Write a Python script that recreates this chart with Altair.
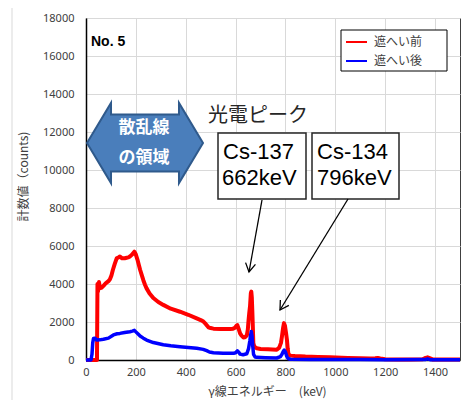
import altair as alt
import pandas as pd

# ---- data ----
red_kev = [0, 20, 44, 46, 48, 52, 56, 62, 70, 80, 90, 96, 102, 108, 115, 123, 130, 136, 145, 155,
           163, 170, 176, 185, 194, 200, 206, 212, 217, 224, 230, 237, 243, 255, 270, 290, 310, 340,
           377, 410, 444, 460, 471, 480, 491, 500, 511, 540, 578, 590, 598, 603, 607, 612, 618, 624,
           631, 638, 645, 649, 652, 655, 658, 661, 663, 665, 667, 669, 671, 675, 685, 700, 730, 765,
           775, 782, 786, 790, 794, 798, 802, 806, 809, 812, 820, 838, 880, 930, 979, 1050, 1100,
           1140, 1160, 1170, 1180, 1200, 1250, 1300, 1350, 1362, 1370, 1378, 1390, 1450, 1500]
red_counts = [0, 0, 0, 4000, 3600, 4100, 3780, 3800, 3900, 4050, 4150, 4250, 4450, 4750, 5050, 5350,
              5400, 5450, 5350, 5350, 5380, 5400, 5450, 5550, 5700, 5550, 5300, 5000, 4750, 4450, 4200,
              3950, 3770, 3500, 3260, 3050, 2900, 2700, 2540, 2380, 2190, 2100, 2020, 1900, 1720, 1680,
              1650, 1630, 1630, 1650, 1700, 1800, 1840, 1650, 1400, 1280, 1190, 1200, 1300, 1600, 2100,
              2500, 2850, 3500, 3600, 3300, 2600, 1800, 900, 700, 620, 580, 560, 540, 650, 900, 1250,
              1650, 1940, 1800, 1450, 1050, 600, 300, 230, 210, 180, 160, 140, 110, 90, 85, 95, 110, 80,
              40, 30, 30, 40, 110, 140, 100, 30, 25, 20]

blue_kev = [0, 20, 24, 27, 30, 36, 43, 55, 70, 90, 110, 125, 136, 155, 176, 186, 194, 200, 210, 217,
            230, 243, 270, 310, 340, 377, 410, 444, 470, 484, 495, 511, 550, 592, 600, 607, 612, 618,
            630, 645, 652, 657, 660, 663, 666, 669, 672, 678, 685, 720, 765, 780, 786, 791, 795, 800,
            805, 810, 820, 900, 1000, 1100, 1200, 1360, 1370, 1380, 1500]
blue_counts = [0, 0, 300, 900, 1130, 1150, 1050, 1060, 1090, 1150, 1320, 1380, 1400, 1450, 1490, 1520,
               1560, 1480, 1350, 1260, 1150, 1050, 920, 800, 750, 700, 660, 615, 560, 490, 420, 385,
               360, 350, 380, 480, 420, 310, 280, 330, 600, 1000, 1300, 1500, 1250, 700, 300, 160, 140,
               120, 105, 180, 300, 450, 520, 420, 200, 80, 40, 30, 25, 20, 15, 20, 60, 15, 10]

series_names = ["遮へい前", "遮へい後"]
series_colors = ["#ff0000", "#0000ff"]

x_ticks = [0, 200, 400, 600, 800, 1000, 1200, 1400]
y_ticks = [0, 2000, 4000, 6000, 8000, 10000, 12000, 14000, 16000, 18000]

df_red = pd.DataFrame({"keV": red_kev, "counts": red_counts, "series": series_names[0]})
df_blue = pd.DataFrame({"keV": blue_kev, "counts": blue_counts, "series": series_names[1]})

JP = "Noto Sans CJK JP"
NUM = "Noto Sans"
TXT = "#404040"

x_enc = alt.X("keV:Q", scale=alt.Scale(domain=[0, 1500], nice=False),
              axis=alt.Axis(values=x_ticks, title="γ線エネルギー　(keV)", labelFlush=False, format="d",
                            labelPadding=6, titleX=181, titleY=31, titleBaseline="middle", titleColor=TXT))
y_enc = alt.Y("counts:Q", scale=alt.Scale(domain=[0, 18000], nice=False),
              axis=alt.Axis(values=y_ticks, title="計数値（counts)", format="d", titleColor=TXT,
                            labelPadding=12, titleX=-63, titleY=158, titleBaseline="middle"))
color_enc = alt.Color("series:N", scale=alt.Scale(domain=series_names, range=series_colors), legend=None)

red_line = alt.Chart(df_red).mark_line(strokeWidth=4, strokeJoin="round").encode(x=x_enc, y=y_enc, color=color_enc)
blue_line = alt.Chart(df_blue).mark_line(strokeWidth=3.5, strokeJoin="round").encode(x=x_enc, y=y_enc, color=color_enc)

base = alt.Chart(pd.DataFrame({"a": [0]}))

# outer chart-area border
border = base.mark_rect(fill=None, stroke="#d9d9d9", strokeWidth=1).encode(
    x=alt.value(-74), x2=alt.value(600), y=alt.value(-16), y2=alt.value(600))

no5 = base.mark_text(text="No. 5", font="Liberation Sans", fontSize=14, fontWeight="bold",
                     align="left", baseline="middle", color="#000000").encode(x=alt.value(5), y=alt.value(24))

# legend
leg_box = base.mark_rect(fill="white", stroke="#000000", strokeWidth=1).encode(
    x=alt.value(255), x2=alt.value(361), y=alt.value(12), y2=alt.value(53))
leg_r = base.mark_rule(color=series_colors[0], strokeWidth=2).encode(
    x=alt.value(260), x2=alt.value(281), y=alt.value(24))
leg_b = base.mark_rule(color=series_colors[1], strokeWidth=2).encode(
    x=alt.value(260), x2=alt.value(281), y=alt.value(43))
leg_t1 = base.mark_text(text=series_names[0], font=JP, fontSize=12, align="left", baseline="middle",
                        color=TXT).encode(x=alt.value(288), y=alt.value(24))
leg_t2 = base.mark_text(text=series_names[1], font=JP, fontSize=12, align="left", baseline="middle",
                        color=TXT).encode(x=alt.value(288), y=alt.value(43))

# double arrow
dbl_path = ("M -1 0 L -0.586 -0.69 L -0.586 -0.49 L 0.586 -0.49 L 0.586 -0.69 L 1 0 "
            "L 0.586 0.69 L 0.586 0.49 L -0.586 0.49 L -0.586 0.69 Z")
dbl = base.mark_point(shape=dbl_path, size=116 * 116, filled=True, fill="#4a7ebb", opacity=1,
                      stroke="#2f5a8c", strokeWidth=2).encode(x=alt.value(59), y=alt.value(125))
dbl_t1 = base.mark_text(text="散乱線", font=JP, fontSize=17, fontWeight="bold", color="white",
                        align="center", baseline="middle").encode(x=alt.value(58), y=alt.value(110))
dbl_t2 = base.mark_text(text="の領域", font=JP, fontSize=17, fontWeight="bold", color="white",
                        align="center", baseline="middle").encode(x=alt.value(58), y=alt.value(140))

photo = base.mark_text(text="光電ピーク", font=JP, fontSize=20, color="#262626", align="left",
                       baseline="middle").encode(x=alt.value(122), y=alt.value(98))

box1 = base.mark_rect(fill="white", stroke="#262626", strokeWidth=1.5).encode(
    x=alt.value(132), x2=alt.value(220), y=alt.value(115), y2=alt.value(181))
box2 = base.mark_rect(fill="white", stroke="#262626", strokeWidth=1.5).encode(
    x=alt.value(226), x2=alt.value(313), y=alt.value(115), y2=alt.value(181))

def label(txt, x, y):
    return base.mark_text(text=txt, font="Liberation Sans", fontSize=22, color="#000000",
                          align="left", baseline="middle").encode(x=alt.value(x), y=alt.value(y))

b1a = label("Cs-137", 137, 134)
b1b = label("662keV", 136, 160)
b2a = label("Cs-134", 231, 134)
b2b = label("796keV", 231, 160)

arr1 = base.mark_rule(color="#000000", strokeWidth=1.3).encode(
    x=alt.value(176), y=alt.value(182), x2=alt.value(163), y2=alt.value(254))
arr2 = base.mark_rule(color="#000000", strokeWidth=1.3).encode(
    x=alt.value(262), y=alt.value(181), x2=alt.value(194), y2=alt.value(292))
head_path = "M -0.866 -0.5 L 0 0 L -0.866 0.5"
head1 = base.mark_point(shape=head_path, size=400, filled=False, stroke="#000000", strokeWidth=1.3,
                        angle=100, opacity=1).encode(x=alt.value(163), y=alt.value(254))
head2 = base.mark_point(shape=head_path, size=400, filled=False, stroke="#000000", strokeWidth=1.3,
                        angle=122, opacity=1).encode(x=alt.value(194), y=alt.value(292))

chart = alt.layer(
    border, red_line, blue_line, no5, leg_box, leg_r, leg_b, leg_t1, leg_t2,
    dbl, dbl_t1, dbl_t2, photo, box1, box2, b1a, b1b, b2a, b2b, arr1, arr2, head1, head2
).properties(
    width=374, height=342,
    autosize=alt.AutoSizeParams(type="none"),
    padding={"left": 78, "top": 10, "right": 7, "bottom": 40},
).configure_view(
    stroke="#404040", strokeWidth=1
).configure_axis(
    grid=True, gridColor="#d9d9d9", gridWidth=1, domainColor="#000000", domainWidth=1.5,
    ticks=False, labelFont=NUM, labelFontSize=11, labelColor=TXT,
    titleFont=JP, titleFontSize=12, titleFontWeight="normal", titleColor=TXT,
    labelOverlap=False
)

chart.save("out.html", embed_options={"renderer": "svg", "actions": False})
